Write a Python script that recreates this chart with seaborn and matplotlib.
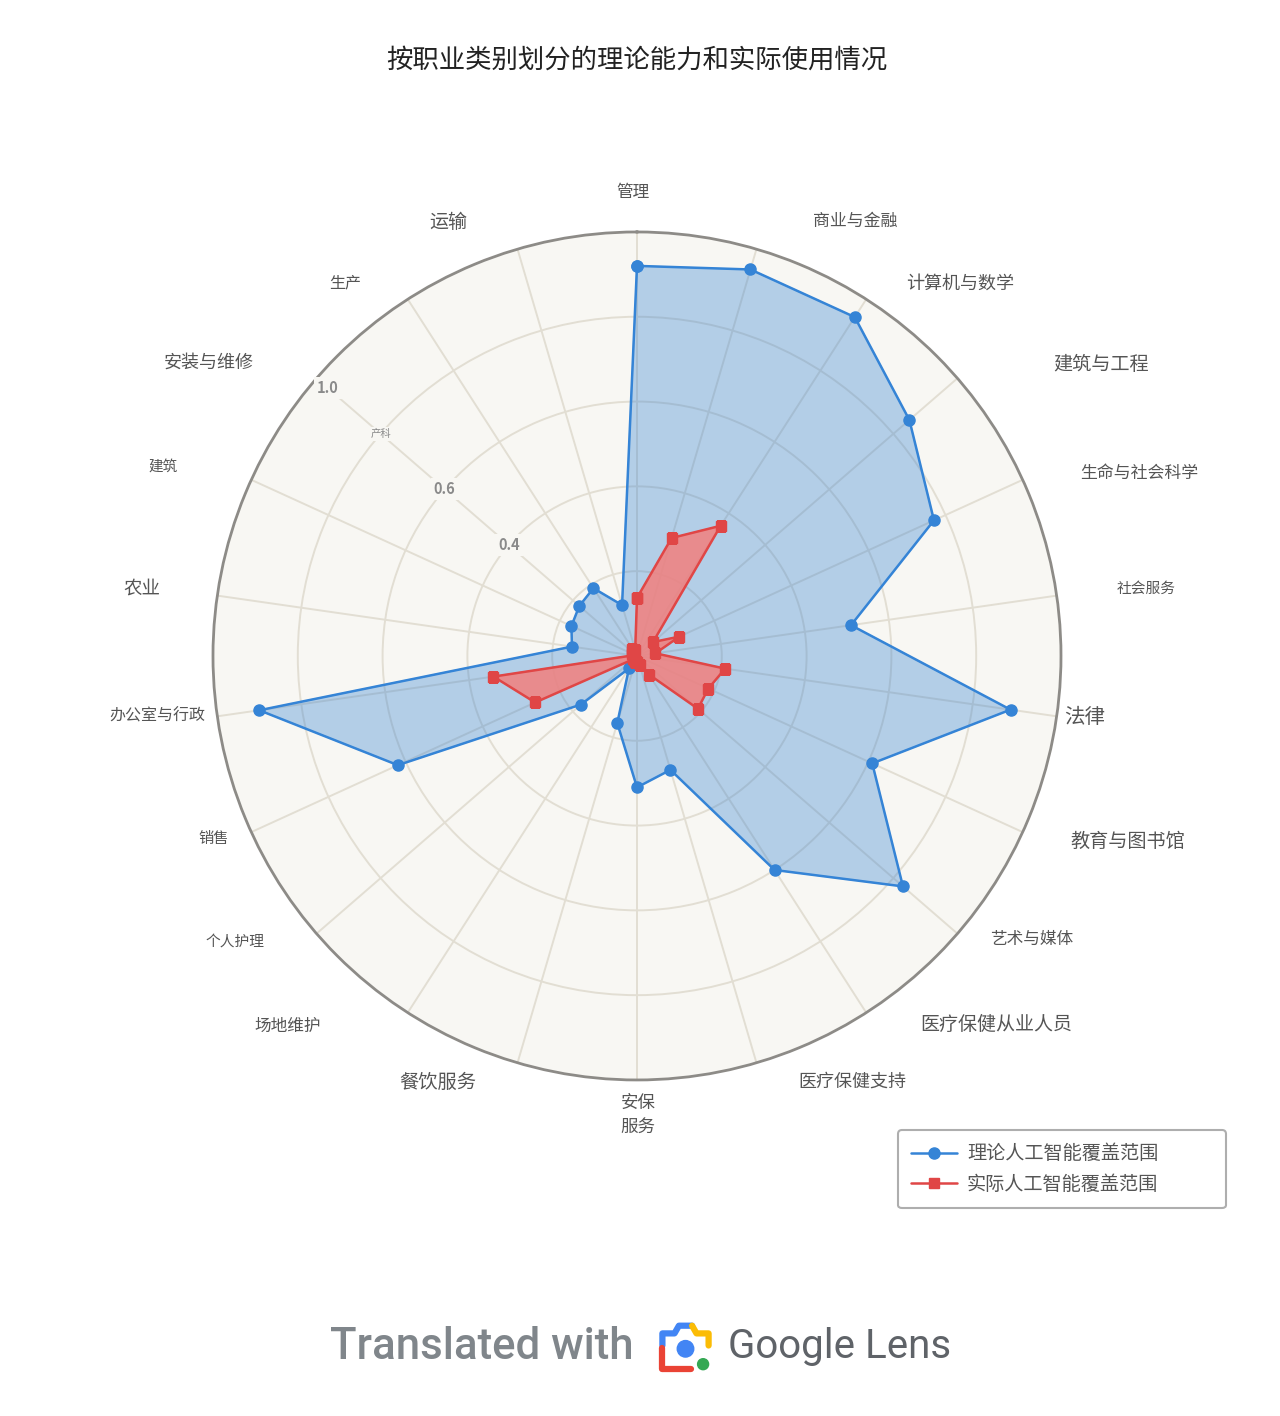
import numpy as np
import matplotlib.pyplot as plt
import seaborn as sns
from matplotlib.patches import Circle

sns.set_theme(style="white")
plt.rcParams['font.family'] = ['Noto Sans CJK SC', 'DejaVu Sans']

# occupations, clockwise from the top
categories = ["管理", "商业与金融", "计算机与数学", "建筑与工程", "生命与社会科学",
              "社会服务", "法律", "教育与图书馆", "艺术与媒体", "医疗保健从业人员",
              "医疗保健支持", "安保\n服务", "餐饮服务", "场地维护", "个人护理", "销售",
              "办公室与行政", "农业", "建筑", "安装与维修", "生产", "运输"]

# theoretical AI coverage
theory = [0.92, 0.95, 0.95, 0.85, 0.77, 0.51, 0.89, 0.61, 0.83, 0.60, 0.28,
          0.31, 0.165, 0.035, 0.175, 0.62, 0.90, 0.155, 0.17, 0.18, 0.19, 0.125]

# actual AI coverage
actual = [0.137, 0.29, 0.365, 0.05, 0.11, 0.044, 0.21, 0.185, 0.19, 0.052, 0.021,
          0.015, 0.015, 0.01, 0.012, 0.264, 0.342, 0.01, 0.012, 0.015, 0.02, 0.015]

series_names = ["理论人工智能覆盖范围", "实际人工智能覆盖范围"]
rtick_text = ["0.4", "0.6", "产科", "1.0"]
rtick_vals = [0.4, 0.6, 0.8, 0.965]

# label layout (figure pixel centres) and font sizes
label_xy = [(633, 192), (855, 221), (960, 284), (1101, 365), (1139, 473),
            (1146, 589), (1085, 717), (1128, 841), (1032, 939), (996, 1024),
            (852, 1082), (638, 1115), (438, 1082), (288, 1026), (235, 942),
            (214, 838), (157, 716), (142, 589), (163, 467), (209, 363),
            (345, 283), (448, 222)]
label_fs = [12, 12.2, 13, 13.8, 12.2, 10.6, 14.8, 13.8, 12, 13.7, 13, 12.6,
            13.9, 12, 10.6, 11, 11.5, 13.3, 10.5, 13, 11.5, 13.7]

W, H = 1280, 1416
n = len(categories)
angles = np.linspace(0, 2 * np.pi, n, endpoint=False)
ang_c = np.append(angles, angles[0])

fig = plt.figure(figsize=(W / 100, H / 100), dpi=100)
fig.patch.set_facecolor("white")
ax = fig.add_axes([0.1664, 0.2373, 0.6625, 0.5989], projection="polar")
ax.set_theta_offset(np.pi / 2)
ax.set_theta_direction(-1)
ax.set_ylim(0, 1)
ax.set_facecolor("#f8f7f3")
ax.spines["polar"].set_color("#8d8b87")
ax.spines["polar"].set_linewidth(2)
ax.set_xticks(angles)
ax.set_xticklabels([])
ax.set_yticks([0.2, 0.4, 0.6, 0.8])
ax.set_yticklabels([])
ax.grid(True, color="#e2ded3", linewidth=1.4)

blue = "#3584d6"
red = "#e04646"
ax.fill(ang_c, np.append(theory, theory[0]), color="#3482d2", alpha=0.35, zorder=2)
ax.plot(ang_c, np.append(theory, theory[0]), color=blue, lw=1.8, marker="o",
        markersize=8, label=series_names[0], zorder=3)
ax.fill(ang_c, np.append(actual, actual[0]), color="#f2807e", alpha=0.85, zorder=4)
ax.plot(ang_c, np.append(actual, actual[0]), color=red, lw=1.8, marker="s",
        markersize=7, label=series_names[1], zorder=5)

# radial tick labels along the 安装与维修 spoke
for txt, rv in zip(rtick_text, rtick_vals):
    small = txt == "产科"
    ax.text(angles[19], rv, txt, ha="center", va="center",
            fontsize=7.5 if small else 10.5, color="#8a8a8a",
            fontweight="normal" if small else "bold",
            bbox=dict(boxstyle="square,pad=0.2", fc="#f8f7f3", ec="none"), zorder=6)

# category labels
for name, (x, y), fs in zip(categories, label_xy, label_fs):
    fig.text(x / W, 1 - y / H, name, ha="center", va="center", fontsize=fs,
             color="#555555", linespacing=1.4)

fig.text(637 / W, 1 - 60 / H, "按职业类别划分的理论能力和实际使用情况",
         ha="center", va="center", fontsize=19, color="#222222")

leg = fig.legend(loc="upper left",
                 bbox_to_anchor=(898 / W, 1 - 1207 / H, 328 / W, 77 / H),
                 mode="expand", borderaxespad=0,
                 fontsize=13.8, frameon=True, fancybox=True, handlelength=2.4,
                 borderpad=0.7, labelspacing=0.5, handletextpad=0.5)
leg.get_frame().set_edgecolor("#9a9a9a")
leg.get_frame().set_linewidth(1.5)
for t in leg.get_texts():
    t.set_color("#555555")

# translation footer
fig.text(330 / W, 1 - 1347 / H, "Translated with", ha="left", va="center",
         fontsize=31.5, color="#80868b", family="Roboto", fontweight="medium")
fig.text(728 / W, 1 - 1347 / H, "Google Lens", ha="left", va="center",
         fontsize=29, color="#5f6368", family="Roboto")
iax = fig.add_axes([658 / W, 1 - 1373 / H, 55 / W, 55 / H])
iax.set_xlim(0, 1)
iax.set_ylim(0, 1)
iax.axis("off")
iax.plot([0.08, 0.08, 0.3, 0.38, 0.62], [0.5, 0.72, 0.72, 0.86, 0.86],
         color="#4285f4", lw=4.5, solid_capstyle="round")
iax.plot([0.62, 0.7, 0.92, 0.92], [0.86, 0.72, 0.72, 0.5],
         color="#fbbc05", lw=4.5, solid_capstyle="round")
iax.plot([0.08, 0.08, 0.6], [0.45, 0.08, 0.08], color="#ea4335", lw=4.5,
         solid_capstyle="round")
iax.add_patch(Circle((0.82, 0.16), 0.1, color="#34a853"))
iax.add_patch(Circle((0.5, 0.44), 0.15, color="#4285f4"))

fig.savefig("out.png", dpi=100, facecolor="white")
